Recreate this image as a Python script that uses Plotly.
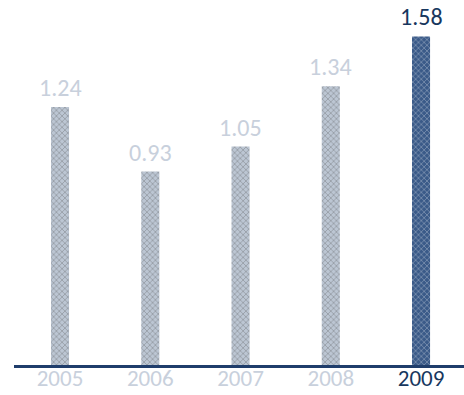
import plotly.graph_objects as go

years = ["2005", "2006", "2007", "2008", "2009"]
values = [1.24, 0.93, 1.05, 1.34, 1.58]
labels = ["1.24", "0.93", "1.05", "1.34", "1.58"]

light_bar = "#bcc6d3"
dark_bar = "#3a5a88"
light_text = "#c8d0dc"
dark_text = "#17375e"
font_family = "Carlito, Lato, sans-serif"

bar_colors = [light_bar] * 4 + [dark_bar]
bar_fg = ["#97a6ba"] * 4 + ["#1f3f6e"]
text_colors = [light_text] * 4 + [dark_text]
tick_text = [f"<span style='color:{c}'>{y}</span>" for y, c in zip(years, text_colors)]
xpos = list(range(len(years)))

fig = go.Figure(
    go.Bar(
        x=xpos,
        y=values,
        width=0.2,
        marker=dict(
            color=bar_colors,
            line=dict(width=0),
            pattern=dict(shape="x", size=4, solidity=0.25, fgcolor=bar_fg, fillmode="overlay"),
        ),
        hoverinfo="skip",
    )
)

# value labels above each bar
for x, v, t, c in zip(xpos, values, labels, text_colors):
    fig.add_annotation(
        x=x, y=v, text=t, showarrow=False,
        xanchor="center", yanchor="bottom", yshift=3,
        font=dict(family=font_family, size=24, color=c),
    )

fig.update_layout(
    width=464,
    height=395,
    margin=dict(l=14, r=0, t=0, b=30),
    paper_bgcolor="white",
    plot_bgcolor="white",
    showlegend=False,
    xaxis=dict(
        range=[-0.51, 4.476],
        tickvals=xpos,
        ticktext=tick_text,
        showgrid=False,
        zeroline=False,
        showline=True,
        linecolor="#1f3d6b",
        linewidth=2.5,
        ticks="",
        automargin=False,
        ticklabelstandoff=-9,
        tickfont=dict(family=font_family, size=23),
    ),
    yaxis=dict(range=[0, 1.755], visible=False, fixedrange=True),
)

fig.write_html("out.html")
